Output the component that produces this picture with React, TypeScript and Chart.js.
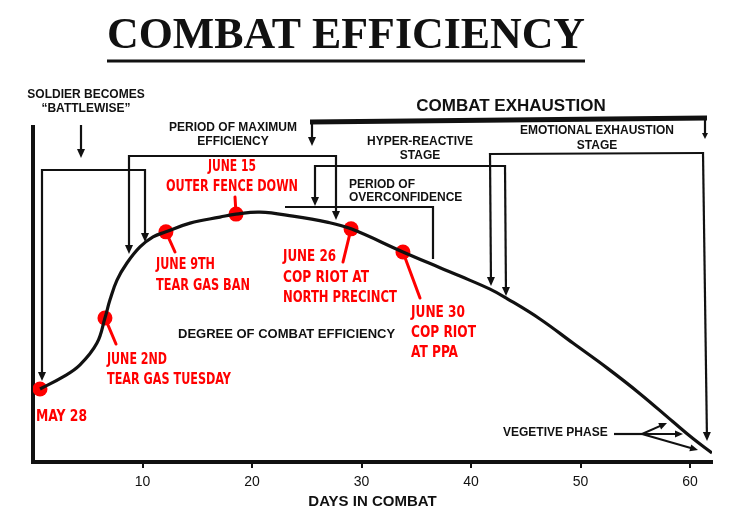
import { useEffect, useRef } from 'react';
import { Chart, registerables } from 'chart.js';

Chart.register(...registerables);

// Days in combat (x) and degree of combat efficiency (y, 0-100) for the curve
const curveDays = [0.64, 2.74, 4.29, 5.84, 6.57, 7.03, 7.67, 8.58, 9.77, 10.96, 12.14, 14.34, 17.07, 18.54, 20.73, 23.74, 26.84, 29.04, 33.78, 37.16, 38.99, 41.73, 43.28, 46.29, 49.3, 52.41, 55.42, 58.44, 60.26, 62.0];
const curveValues = [21.8, 25.4, 29.0, 35.5, 43.0, 48.4, 54.3, 59.4, 64.2, 67.2, 68.7, 71.3, 73.1, 74.0, 74.6, 73.4, 71.6, 69.6, 62.7, 58.0, 55.5, 51.6, 48.8, 42.7, 35.5, 28.1, 20.4, 12.0, 7.0, 2.7];

// Red event markers
const eventDays = [0.64, 6.57, 12.14, 18.54, 29.04, 33.78];
const eventValues = [21.8, 43.0, 68.7, 74.0, 69.6, 62.7];
const eventLabels = [
  ['MAY 28'],
  ['JUNE 2ND', 'TEAR GAS TUESDAY'],
  ['JUNE 9TH', 'TEAR GAS BAN'],
  ['JUNE 15', 'OUTER FENCE DOWN'],
  ['JUNE 26', 'COP RIOT AT', 'NORTH PRECINCT'],
  ['JUNE 30', 'COP RIOT', 'AT PPA'],
];

const xTicks = [10, 20, 30, 40, 50, 60];

const TITLE = 'COMBAT EFFICIENCY';
const X_TITLE = 'DAYS IN COMBAT';

const BLACK = '#111111';
const RED = '#ff0000';
const SANS = '"Liberation Sans", Arial, sans-serif';
const RED_FONT = 'bold 16px "Liberation Sans Narrow", "DejaVu Sans Condensed", sans-serif';

// layout of event labels (pixel placement, max widths) and their leader sticks
const eventLayout = [
  { x: 36, ys: [417], ws: [51], align: 'left', stick: null },
  { x: 107, ys: [360, 380], ws: [60, 124], align: 'left', stick: [116, 344] },
  { x: 156, ys: [265, 286], ws: [59, 94], align: 'left', stick: [175, 252] },
  { x: 232, ys: [167, 187], ws: [48, 132], align: 'center', stick: [235, 197] },
  { x: 283, ys: [257, 278, 298], ws: [53, 86, 114], align: 'left', stick: [343, 262] },
  { x: 411, ys: [313, 333, 353], ws: [54, 65, 47], align: 'left', stick: [420, 298] },
];

function arrow(ctx: CanvasRenderingContext2D, x1: number, y1: number, x2: number, y2: number, lw = 2.2, head = 9, hw = 4) {
  const a = Math.atan2(y2 - y1, x2 - x1);
  ctx.save();
  ctx.strokeStyle = BLACK;
  ctx.fillStyle = BLACK;
  ctx.lineWidth = lw;
  ctx.beginPath();
  ctx.moveTo(x1, y1);
  ctx.lineTo(x2 - Math.cos(a) * head * 0.6, y2 - Math.sin(a) * head * 0.6);
  ctx.stroke();
  ctx.beginPath();
  ctx.moveTo(x2, y2);
  ctx.lineTo(x2 - Math.cos(a) * head - Math.sin(a) * hw, y2 - Math.sin(a) * head + Math.cos(a) * hw);
  ctx.lineTo(x2 - Math.cos(a) * head + Math.sin(a) * hw, y2 - Math.sin(a) * head - Math.cos(a) * hw);
  ctx.closePath();
  ctx.fill();
  ctx.restore();
}

function line(ctx: CanvasRenderingContext2D, pts: number[][], lw = 2.2) {
  ctx.save();
  ctx.strokeStyle = BLACK;
  ctx.lineWidth = lw;
  ctx.lineJoin = 'miter';
  ctx.beginPath();
  pts.forEach(([x, y], i) => (i ? ctx.lineTo(x, y) : ctx.moveTo(x, y)));
  ctx.stroke();
  ctx.restore();
}

function text(ctx: CanvasRenderingContext2D, s: string, x: number, y: number, font: string, align: CanvasTextAlign = 'center', color = BLACK, maxW?: number) {
  ctx.save();
  ctx.font = font;
  ctx.fillStyle = color;
  ctx.textAlign = align;
  ctx.textBaseline = 'middle';
  if (maxW) ctx.fillText(s, x, y, maxW);
  else ctx.fillText(s, x, y);
  ctx.restore();
}

const annotationPlugin = {
  id: 'combatAnnotations',
  beforeDatasetsDraw(chart: any) {
    const ctx: CanvasRenderingContext2D = chart.ctx;
    const xs = chart.scales.x;
    const ys = chart.scales.y;
    ctx.save();
    ctx.strokeStyle = RED;
    ctx.lineWidth = 3;
    ctx.lineCap = 'round';
    eventDays.forEach((d, i) => {
      const st = eventLayout[i].stick;
      if (!st) return;
      const px = xs.getPixelForValue(d);
      const py = ys.getPixelForValue(eventValues[i]);
      ctx.beginPath();
      ctx.moveTo(px, py);
      ctx.lineTo(st[0], st[1]);
      ctx.stroke();
    });
    ctx.restore();
  },
  afterDatasetsDraw(chart: any) {
    const ctx: CanvasRenderingContext2D = chart.ctx;
    const B12 = `bold 12px ${SANS}`;

    // Title
    text(ctx, TITLE, 346, 37, 'bold 44px "Liberation Serif", "Times New Roman", serif', 'center', BLACK, 478);
    line(ctx, [[107, 61], [585, 61]], 3);

    // Soldier becomes battlewise
    text(ctx, 'SOLDIER BECOMES', 86, 95, B12);
    text(ctx, '\u201CBATTLEWISE\u201D', 86, 109, B12);
    arrow(ctx, 81, 125, 81, 158);
    line(ctx, [[42, 170], [145, 170]]);
    arrow(ctx, 42, 169, 42, 381);
    arrow(ctx, 145, 169, 145, 242);

    // Period of maximum efficiency
    text(ctx, 'PERIOD OF MAXIMUM', 233, 128, B12);
    text(ctx, 'EFFICIENCY', 233, 142, B12);
    line(ctx, [[129, 156], [336, 156]]);
    arrow(ctx, 129, 155, 129, 254);
    arrow(ctx, 336, 155, 336, 220);

    // Combat exhaustion
    text(ctx, 'COMBAT EXHAUSTION', 511, 106, `bold 17px ${SANS}`, 'center', BLACK, 198);
    line(ctx, [[310, 122], [707, 118]], 5);
    arrow(ctx, 312, 121, 312, 146);
    arrow(ctx, 705, 118, 705, 139, 2.2, 6, 3);

    // Hyper-reactive stage
    text(ctx, 'HYPER-REACTIVE', 420, 142, B12);
    text(ctx, 'STAGE', 420, 156, B12);
    line(ctx, [[315, 166], [505, 166]]);
    arrow(ctx, 315, 165, 315, 206);
    arrow(ctx, 505, 165, 506, 296);

    // Emotional exhaustion stage
    text(ctx, 'EMOTIONAL EXHAUSTION', 597, 131, B12);
    text(ctx, 'STAGE', 597, 146, B12);
    line(ctx, [[490, 154], [703, 153]]);
    arrow(ctx, 490, 153, 491, 286);
    arrow(ctx, 703, 152, 707, 441);

    // Period of overconfidence
    text(ctx, 'PERIOD OF', 349, 185, B12, 'left');
    text(ctx, 'OVERCONFIDENCE', 349, 198, B12, 'left');
    line(ctx, [[285, 207], [433, 207], [433, 259]]);

    // Degree of combat efficiency
    text(ctx, 'DEGREE OF COMBAT EFFICIENCY', 178, 334, `bold 13px ${SANS}`, 'left', BLACK, 219);

    // Vegetive phase
    text(ctx, 'VEGETIVE PHASE', 503, 433, B12, 'left');
    line(ctx, [[614, 434], [642, 434]]);
    arrow(ctx, 642, 434, 667, 423, 2, 8, 3.5);
    arrow(ctx, 642, 434, 683, 434, 2, 8, 3.5);
    arrow(ctx, 642, 434, 698, 450, 2, 8, 3.5);

    // Red event labels
    eventLabels.forEach((lines, i) => {
      const lay = eventLayout[i];
      lines.forEach((s, j) => {
        text(ctx, s, lay.x, lay.ys[j], RED_FONT, lay.align as CanvasTextAlign, RED, lay.ws[j]);
      });
    });
  },
};

export default function App() {
  const ref = useRef<HTMLCanvasElement | null>(null);
  useEffect(() => {
    if (!ref.current) return;
    const chart = new Chart(ref.current, {
      type: 'line',
      data: {
        datasets: [
          {
            label: 'Degree of combat efficiency',
            data: curveDays.map((d, i) => ({ x: d, y: curveValues[i] })),
            borderColor: BLACK,
            borderWidth: 3.2,
            pointRadius: 0,
            tension: 0.4,
            fill: false,
          },
          {
            label: 'Events',
            data: eventDays.map((d, i) => ({ x: d, y: eventValues[i] })),
            showLine: false,
            pointRadius: 7.5,
            pointBackgroundColor: RED,
            pointBorderColor: RED,
            pointBorderWidth: 0,
          },
        ],
      },
      options: {
        animation: false,
        responsive: true,
        maintainAspectRatio: false,
        layout: { padding: { left: 31, right: 22, top: 127, bottom: 4 } },
        plugins: { legend: { display: false }, tooltip: { enabled: false } },
        events: [],
        scales: {
          x: {
            type: 'linear',
            min: 0,
            max: 62,
            afterBuildTicks: (s: any) => {
              s.ticks = xTicks.map((v) => ({ value: v }));
            },
            afterFit: (s: any) => {
              s.height = 52;
            },
            grid: { display: true, drawOnChartArea: false, drawTicks: true, tickLength: 6, color: BLACK, lineWidth: 2 },
            border: { display: true, color: BLACK, width: 4 },
            ticks: { color: BLACK, font: { family: SANS, size: 14 }, padding: 6, maxRotation: 0, autoSkip: false },
            title: {
              display: true,
              text: X_TITLE,
              color: BLACK,
              font: { family: SANS, size: 15, weight: 'bold' },
              padding: { top: 0, bottom: 3 },
            },
          },
          y: {
            min: 0,
            max: 100,
            afterFit: (s: any) => {
              s.width = 2;
            },
            ticks: { display: false },
            grid: { display: false },
            border: { display: true, color: BLACK, width: 4 },
          },
        },
      } as any,
      plugins: [annotationPlugin],
    });
    return () => chart.destroy();
  }, []);
  return (
    <div style={{ position: 'absolute', left: 0, top: 0, width: 734, height: 518, background: '#fff' }}>
      <canvas ref={ref} />
    </div>
  );
}
